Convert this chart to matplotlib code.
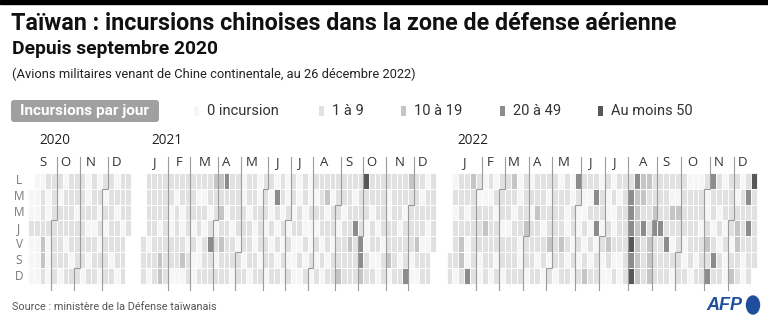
import datetime as dt
import matplotlib.pyplot as plt
from matplotlib.patches import Rectangle, FancyBboxPatch, Ellipse

# niveau par jour : 0 = aucune, 1 = 1 a 9, 2 = 10 a 19, 3 = 20 a 49, 4 = au moins 50
# une chaine par jour de semaine (L..D), un caractere par semaine, ' ' = hors periode
levels_2020 = [
    " 001110111|01011011",
    "0010101111|01101111",
    "0010111101|11011011",
    "1111111111|00101101",
    "0020110111|1101111 ",
    "0020111011|0111011 ",
    "0010101110|1101101 ",
]
levels_2021 = [
    " 111111111|1112231101|1011010101|0111111111|4111111121|101",
    " 111110111|0011111101|1010310101|0012011101|1111011111|011",
    " 111101011|1101201110|1110101010|1110110111|1011011011|111",
    " 110101010|1010110111|0101010110|0011101131|0101110111|101",
    "1011111101|0131211011|0110101001|0101011213|0110111112|001",
    "1112111210|0110111101|1011010010|1010111113|1001210101|11 ",
    "1012100010|1111110110|1101101001|0101121112|1101011300|11 ",
]
levels_2022 = [
    " 011210101|1201011110|1031110101|1132211111|1000131011|014",
    " 111100011|1101111011|1010031010|1322111100|1111011110|131",
    " 010111101|1011021111|0100111001|1321121122|1111010111|111",
    " 111112110|0112110111|0101030101|1323133111|1110101012|131",
    " 120111111|1101111212|1010101211|1421211301|0111210102|111",
    "1120101101|1101101011|0101010100|1321211111|0101131011|011",
    "1013101010|1110110101|1012110010|1421211101|1011311021|01 ",
]
years = [2020, 2021, 2022]
first_days = [dt.date(2020, 9, 1), dt.date(2021, 1, 1), dt.date(2022, 1, 1)]
weekday_labels = ['L', 'M', 'M', 'J', 'V', 'S', 'D']
month_labels = ['J', 'F', 'M', 'A', 'M', 'J', 'J', 'A', 'S', 'O', 'N', 'D']
legend_labels = ['0 incursion', '1 à 9', '10 à 19', '20 à 49', 'Au moins 50']

colors = ['#f6f6f6', '#e1e1e1', '#c5c5c5', '#8c8c8c', '#575757']
line_color = '#9c9c9c'
narrow = ['Liberation Sans Narrow', 'Roboto', 'DejaVu Sans']
regular = ['Open Sans', 'DejaVu Sans']

W, H = 768, 326
fig = plt.figure(figsize=(W / 100, H / 100), dpi=100)
ax = fig.add_axes([0, 0, 1, 1])
ax.set_xlim(0, W)
ax.set_ylim(H, 0)
ax.axis('off')
renderer = fig.canvas.get_renderer()


def fit(t, width):
    bb = t.get_window_extent(renderer)
    t.set_fontsize(t.get_fontsize() * width / bb.width)


# bandeau + titres
ax.add_patch(Rectangle((0, 0), W, 4, color='black'))
t = ax.text(11, 24, "Taïwan : incursions chinoises dans la zone de défense aérienne",
            family=narrow, weight='bold', fontsize=16, va='center', color='#111')
fit(t, 668)
t = ax.text(12, 49, "Depuis septembre 2020", family=narrow, weight='bold',
            fontsize=12, va='center', color='#111')
fit(t, 206)
t = ax.text(12, 74, "(Avions militaires venant de Chine continentale, au 26 décembre 2022)",
            family=narrow, fontsize=9, va='center', color='#222')
fit(t, 408)

# legende
ax.add_patch(FancyBboxPatch((11, 100), 148, 22, boxstyle='round,pad=0,rounding_size=3',
                            fc='#a0a0a0', ec='none'))
t = ax.text(85, 111, "Incursions par jour", family=narrow, weight='bold',
            fontsize=10, va='center', ha='center', color='white')
fit(t, 130)
legend_x = [194, 319, 401, 500, 598]
for lx, lab, col in zip(legend_x, legend_labels, colors):
    ax.add_patch(Rectangle((lx, 106), 4.5, 10, fc=col, ec='none'))
    ax.text(lx + 13, 111, lab, family=narrow, fontsize=10.5, va='center', color='#333')

# calendrier
block_x0 = [28.3, 140.0, 446.5]
col_w = [5.7, 5.585, 5.86]
grid_top, row_h = 172.7, 15.9
line_top, line_bot = 157, 290

for year, first, rows, x0, w in zip(years, first_days,
                                    [levels_2020, levels_2021, levels_2022],
                                    block_x0, col_w):
    monday0 = first - dt.timedelta(days=first.weekday())
    for r, s in enumerate(rows):
        for c, ch in enumerate(s.replace('|', '')):
            if ch == ' ':
                continue
            ax.add_patch(Rectangle((x0 + c * w, grid_top + r * row_h), w, row_h,
                                   fc=colors[int(ch)], ec='white', lw=0.6))

    ax.text(x0 + 11, 140, str(year), family=regular, fontsize=9.8, va='center', color='#222')

    for m in range(first.month, 13):
        d1 = dt.date(year, m, 1) if m > first.month else first
        d2 = (dt.date(year, m + 1, 1) if m < 12 else dt.date(year + 1, 1, 1)) - dt.timedelta(days=1)
        c1 = (d1 - monday0).days // 7
        c2 = (d2 - monday0).days // 7
        ax.text(x0 + w * (c1 + c2 + 1) / 2, 163, month_labels[m - 1], family=regular,
                fontsize=9.5, ha='center', va='center', color='#333')
        if m > first.month:
            r = d1.weekday()
            xl, xr = x0 + c1 * w, x0 + (c1 + 1) * w
            if r == 0:
                xs, ys = [xl, xl], [line_top, line_bot]
            else:
                ys_step = grid_top + r * row_h
                xs, ys = [xr, xr, xl, xl], [line_top, ys_step, ys_step, line_bot]
            ax.plot(xs, ys, color=line_color, lw=0.8, solid_joinstyle='miter')

for r, lab in enumerate(weekday_labels):
    ax.text(19, grid_top + (r + 0.5) * row_h, lab, family=regular, fontsize=8.5,
            ha='center', va='center', color='#777')

# source et logo
t = ax.text(12, 307, "Source : ministère de la Défense taïwanais", family=narrow,
            fontsize=8, va='center', color='#555')
fit(t, 206)
ax.text(742, 306, "AFP", family=['Liberation Sans', 'DejaVu Sans'], weight='bold',
        style='italic', fontsize=13, ha='right', va='center', color='#1f4f9c')
ax.add_patch(Ellipse((753, 305), 13, 18, color='#1f4f9c'))

fig.savefig('out.png', dpi=100)
